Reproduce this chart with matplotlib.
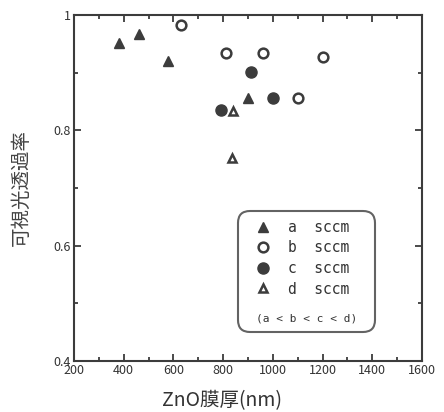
import matplotlib
matplotlib.use("Agg")
import matplotlib.pyplot as plt
from matplotlib.ticker import MultipleLocator, FixedLocator

plt.rcParams['font.family'] = ['Noto Sans CJK JP', 'DejaVu Sans']

# film thickness (nm) vs visible transmittance, per gas flow
a_x = [380, 460, 580, 900]
a_y = [0.951, 0.967, 0.920, 0.856]
b_x = [630, 810, 960, 1100, 1200]
b_y = [0.983, 0.934, 0.934, 0.856, 0.927]
c_x = [790, 910, 1000]
c_y = [0.835, 0.901, 0.856]
d_x = [840, 835]
d_y = [0.834, 0.752]

labels = ['a  sccm  ', 'b  sccm  ', 'c  sccm  ', 'd  sccm  ']
note = '(a < b < c < d)'

col = '#3c3c3c'

fig = plt.figure(figsize=(4.44, 4.12), dpi=100)
ax = fig.add_axes([0.1667, 0.1238, 0.7838, 0.8398])

h1, = ax.plot(a_x, a_y, ls='none', marker='^', ms=7, color=col, label=labels[0])
h2, = ax.plot(b_x, b_y, ls='none', marker='o', ms=7, mfc='white', mec=col, mew=1.8, label=labels[1])
h3, = ax.plot(c_x, c_y, ls='none', marker='o', ms=8, color=col, label=labels[2])
h4, = ax.plot(d_x, d_y, ls='none', marker='^', ms=6, mfc='white', mec=col, mew=1.8, label=labels[3])

ax.set_xlim(200, 1600)
ax.set_ylim(0.4, 1.0)
ax.xaxis.set_major_locator(MultipleLocator(200))
ax.xaxis.set_minor_locator(MultipleLocator(100))
ax.yaxis.set_major_locator(FixedLocator([0.4, 0.6, 0.8, 1.0]))
ax.yaxis.set_minor_locator(MultipleLocator(0.1))
ax.set_yticklabels(['0.4', '0.6', '0.8', '1'])

ax.tick_params(which='both', direction='in', top=True, right=True, color=col,
               labelsize=9, labelcolor='#333333', width=1.3, pad=2)
ax.tick_params(which='major', length=5)
ax.tick_params(which='minor', length=3)
for s in ax.spines.values():
    s.set_linewidth(1.5)
    s.set_color(col)

ax.set_xlabel('ZnO膜厚(nm)', fontsize=14, color='#333333')
ax.xaxis.set_label_coords(0.425, -0.085)
ax.set_ylabel('可視光透過率', fontsize=14, color='#444444')
ax.yaxis.set_label_coords(-0.12, 0.5)

leg = ax.legend([h1, h2, h3, h4], labels, title=note,
                loc='lower left', bbox_to_anchor=(0.471, 0.084),
                prop={'family': 'DejaVu Sans Mono', 'size': 10.5},
                title_fontproperties={'family': 'DejaVu Sans Mono', 'size': 8},
                frameon=True, fancybox=True, edgecolor=col,
                handlelength=2.3, handletextpad=0.5, labelspacing=0.38,
                borderpad=0.6, borderaxespad=0)
# put the note under the entries
leg._legend_box.get_children().reverse()
leg._legend_box.sep = 12
leg.get_frame().set_linewidth(1.5)
leg.get_frame().set_boxstyle('round', pad=0.0, rounding_size=0.8)
for t in leg.get_texts():
    t.set_color('#333333')
leg.get_title().set_color('#333333')

fig.savefig('out.png', dpi=100)
